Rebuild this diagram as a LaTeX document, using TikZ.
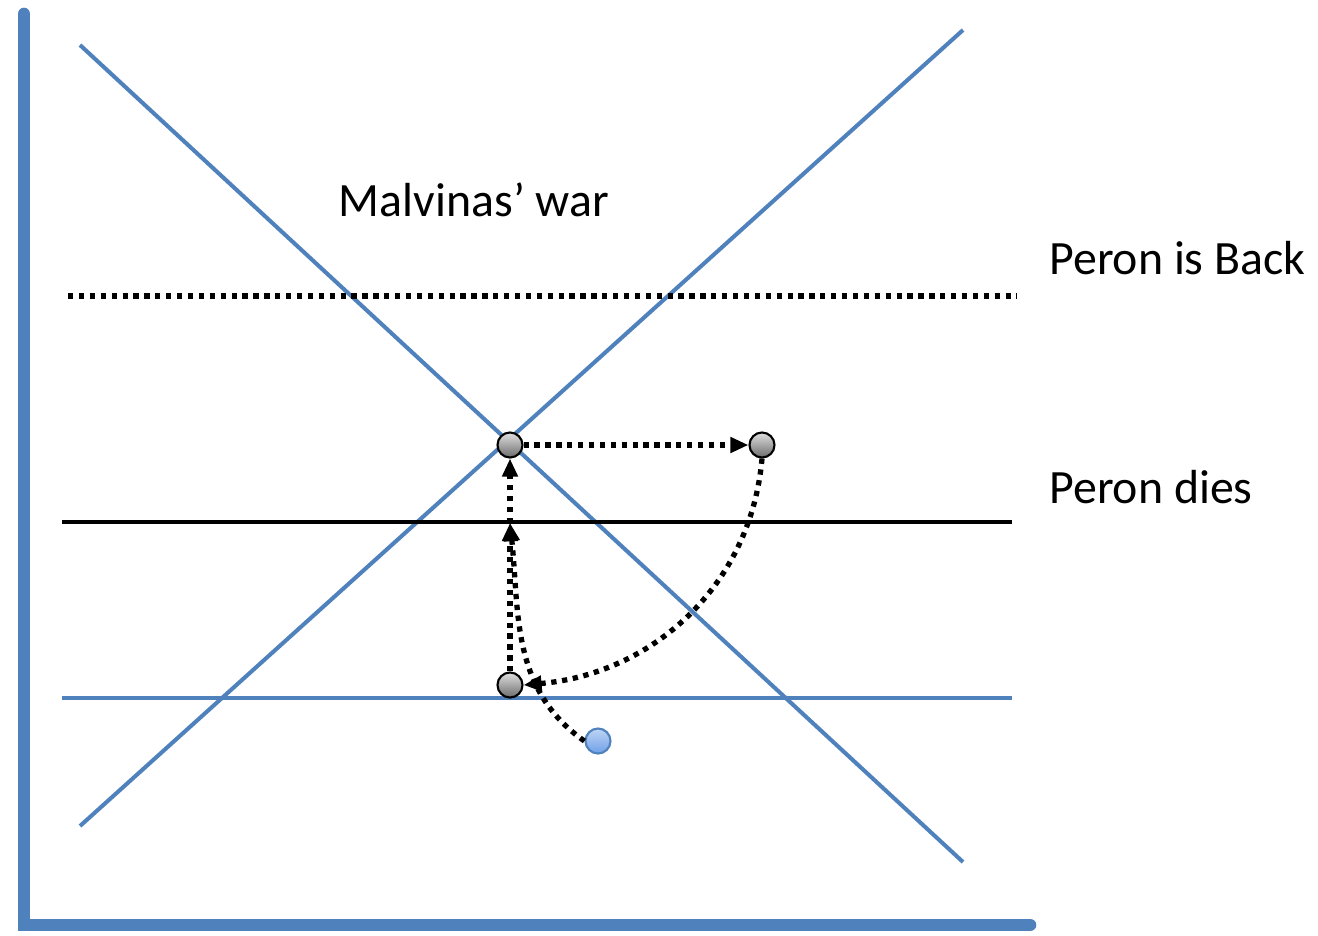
\documentclass[tikz,border=0pt]{standalone}
\usepackage{fontspec}
\setmainfont{Carlito}
\usetikzlibrary{arrows.meta, shadings}
\definecolor{axisblue}{HTML}{4F81BD}
\definecolor{dotblue}{HTML}{6FA0E8}

\begin{document}
\begin{tikzpicture}[
  x=0.01cm, y=-0.01cm,
  axis/.style={draw=axisblue, line width=3.6pt, line cap=round},
  curve/.style={draw=axisblue, line width=1.15pt},
  level/.style={draw=black, line width=1.15pt},
  dots/.style={line width=1.5pt, dash pattern=on 1.5pt off 1.6pt},
  move/.style={draw=black, dots, -{Triangle[length=1.8mm, width=1.5mm]}},
  state/.style={circle, draw=black, line width=0.6pt, top color=gray!25, bottom color=gray!85!black,
                minimum size=0.25cm, inner sep=0pt},
  start/.style={circle, draw=axisblue, line width=0.6pt, top color=dotblue!45!white, bottom color=dotblue,
                minimum size=0.25cm, inner sep=0pt},
  lab/.style={font=\fontsize{13.6}{16}\selectfont, anchor=west},
]
\useasboundingbox (0,0) rectangle (1318,935);
% ---- axes
\draw[axis] (24,14) -- (24,925) -- (1030,925);
% ---- the two crossing schedules
\draw[curve] (80,45) -- (963,862);
\draw[curve] (80,826) -- (963,30);
% ---- horizontal levels
\draw[black, dots] (68,296) -- (1017,296);
\draw[level, line width=1.4pt] (62,522) -- (1012,522);
\draw[curve] (62,698) -- (1012,698);
% ---- labels
\node[lab, anchor=center] (malvinas) at (474,200) {Malvinas’ war};
\node[lab] (back) at (1037,258) {Peron is Back};
\node[lab] (dies) at (1037,487) {Peron dies};
% ---- equilibrium points
\node[state] (cross) at (510,445) {};
\node[state] (right) at (762,445) {};
\node[state] (low) at (510,685) {};
\node[start] (origin) at (598,741) {};
\coordinate (mid) at (510,523);
% ---- moves between them
\draw[move] (origin.west) to[out=145, in=-84] (mid);
\draw[move] (low.north) -- (mid);
\draw[move] (mid) -- (cross.south);
\draw[move] (cross.east) -- (right.west);
\draw[move] (right.south) to[out=-95, in=5] (low.east);
\end{tikzpicture}
\end{document}
